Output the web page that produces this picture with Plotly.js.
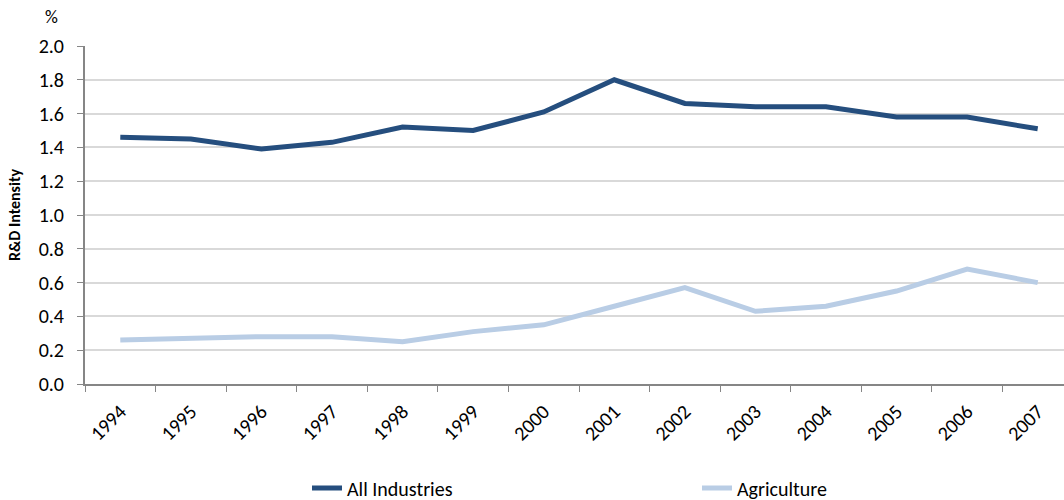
<!DOCTYPE html>
<html><head><meta charset="utf-8">
<script src="https://cdn.plot.ly/plotly-3.0.1.min.js"></script>
<style>html,body{margin:0;padding:0;overflow:hidden;background:#fff}</style>
</head><body>
<div id="chart"></div>
<script>
const years = ["1994","1995","1996","1997","1998","1999","2000","2001","2002","2003","2004","2005","2006","2007"];
const allIndustries = [1.46,1.45,1.39,1.43,1.52,1.50,1.61,1.80,1.66,1.64,1.64,1.58,1.58,1.51];
const agriculture = [0.26,0.27,0.28,0.28,0.25,0.31,0.35,0.46,0.57,0.43,0.46,0.55,0.68,0.60];
const yTicks = [0,0.2,0.4,0.6,0.8,1.0,1.2,1.4,1.6,1.8,2.0];

const font = "Carlito, 'Open Sans', 'Liberation Sans', Arial, sans-serif";
const traces = [
  {x: years, y: allIndustries, name: "All Industries", type: "scatter", mode: "lines",
   line: {color: "#254E7E", width: 5}, legend: "legend"},
  {x: years, y: agriculture, name: "Agriculture", type: "scatter", mode: "lines",
   line: {color: "#B9CDE5", width: 5}, legend: "legend2"}
];
const legendBase = {orientation: "h", xref: "container", yref: "container", xanchor: "left", y: 0.024, yanchor: "middle",
                    font: {size: 20}, bgcolor: "rgba(0,0,0,0)"};
const layout = {
  width: 1074, height: 500,
  margin: {l: 85, r: 1, t: 46, b: 116},
  paper_bgcolor: "#fff", plot_bgcolor: "#fff",
  font: {family: font, size: 20, color: "#000"},
  showlegend: true,
  legend: Object.assign({}, legendBase, {x: 307 / 1074}),
  legend2: Object.assign({}, legendBase, {x: 697 / 1074}),
  xaxis: {type: "category", range: [-0.5, 13.5], tickson: "boundaries", ticks: "outside", ticklen: 6,
          tickcolor: "#868686", showline: true, linecolor: "#868686", linewidth: 2, showgrid: false,
          tickangle: -45, tickfont: {size: 20}, ticklabelstandoff: 6, fixedrange: true},
  yaxis: {range: [0, 2.0], tickvals: yTicks, ticktext: yTicks.map(v => v.toFixed(1)),
          ticks: "outside", ticklen: 6, tickcolor: "#868686", showline: true, linecolor: "#868686", linewidth: 2,
          showgrid: true, gridcolor: "#D9D9D9", gridwidth: 2, zeroline: false, tickfont: {size: 20},
          ticklabelstandoff: 9,
          title: {text: "<b>R&D Intensity</b>", font: {size: 16}, standoff: 14}, automargin: false},
  annotations: [{text: "%", xref: "paper", yref: "paper", x: -0.034, y: 1.086, xanchor: "center", yanchor: "middle",
                 showarrow: false, font: {size: 18}}]
};
Plotly.newPlot("chart", traces, layout, {displayModeBar: false, staticPlot: true});
</script>
</body></html>
